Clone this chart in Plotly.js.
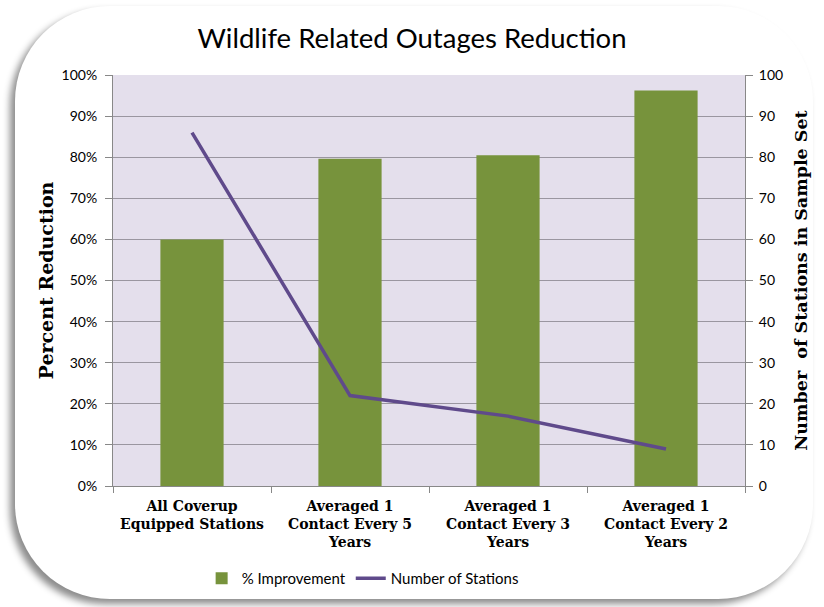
<!DOCTYPE html>
<html>
<head>
<meta charset="utf-8">
<script src="https://cdn.plot.ly/plotly-3.0.1.min.js"></script>
<style>
  html, body { margin: 0; padding: 0; background: #ffffff; }
  #panel {
    position: absolute; left: 15px; top: 6px; width: 798px; height: 593px;
    background: #ffffff; border-radius: 95px;
    box-shadow: -5px 5px 7px rgba(0,0,0,0.45);
  }
  #chart { position: absolute; left: 0; top: 0; width: 824px; height: 607px; }
</style>
</head>
<body>
<div id="panel"></div>
<div id="chart"></div>
<script>
const categories = [
  "All Coverup<br>Equipped Stations",
  "Averaged 1<br>Contact Every 5<br>Years",
  "Averaged 1<br>Contact Every 3<br>Years",
  "Averaged 1<br>Contact Every 2<br>Years"
];
const improvement = [0.60, 0.796, 0.805, 0.962];
const stations = [86, 22, 17, 9];
const seriesNames = ["% Improvement", "Number of Stations"];

const traces = [
  {
    type: "bar", x: categories, y: improvement, name: seriesNames[0],
    marker: { color: "#77933c" }, width: 0.4, yaxis: "y"
  },
  {
    type: "scatter", mode: "lines", x: categories, y: stations, name: seriesNames[1],
    line: { color: "#5f4a8b", width: 3.5 }, yaxis: "y2"
  }
];

const tickFont = { family: "Lato, 'Open Sans', sans-serif", size: 14, color: "#000" };
const slab = "'DejaVu Serif', serif";

const layout = {
  width: 824, height: 607,
  margin: { l: 113, r: 79, t: 75, b: 121 },
  paper_bgcolor: "rgba(0,0,0,0)",
  plot_bgcolor: "#e4dfec",
  title: {
    text: "Wildlife Related Outages Reduction",
    font: { family: "Lato, 'Open Sans', sans-serif", size: 27.5, color: "#000" },
    x: 0.5, xanchor: "center", y: 0.937, yanchor: "middle"
  },
  showlegend: true,
  legend: {
    orientation: "h", x: 0.395, xanchor: "center", y: -0.225, yanchor: "middle",
    font: { family: "Lato, 'Open Sans', sans-serif", size: 15, color: "#000" },
    bgcolor: "rgba(0,0,0,0)", traceorder: "normal", itemwidth: 30
  },
  xaxis: {
    type: "category",
    tickfont: { family: slab, size: 14, color: "#000", weight: "bold" },
    showline: true, linecolor: "#888", linewidth: 1,
    ticks: "outside", ticklen: 6, tickcolor: "#888",
    showgrid: false, tickson: "boundaries", ticklabelstandoff: 7
  },
  yaxis: {
    range: [0, 1], dtick: 0.1, tickformat: ".0%",
    tickfont: tickFont,
    showgrid: true, gridcolor: "#9a96a0", gridwidth: 1,
    showline: true, linecolor: "#888", ticks: "outside", ticklen: 7, tickcolor: "#888",
    ticklabelstandoff: 5,
    zeroline: false,
    title: { text: "Percent Reduction", font: { family: slab, size: 19, color: "#000", weight: "bold" }, standoff: 2 }
  },
  yaxis2: {
    overlaying: "y", side: "right", range: [0, 100], dtick: 10,
    tickfont: tickFont, showgrid: false, zeroline: false,
    showline: true, linecolor: "#888", ticks: "outside", ticklen: 7, tickcolor: "#888",
    ticklabelstandoff: 3,
    title: { text: "Number  of Stations in Sample Set", font: { family: slab, size: 17.5, color: "#000", weight: "bold" }, standoff: 12 }
  },
  bargap: 0.6
};

Plotly.newPlot("chart", traces, layout, { staticPlot: true, displayModeBar: false });
</script>
</body>
</html>
